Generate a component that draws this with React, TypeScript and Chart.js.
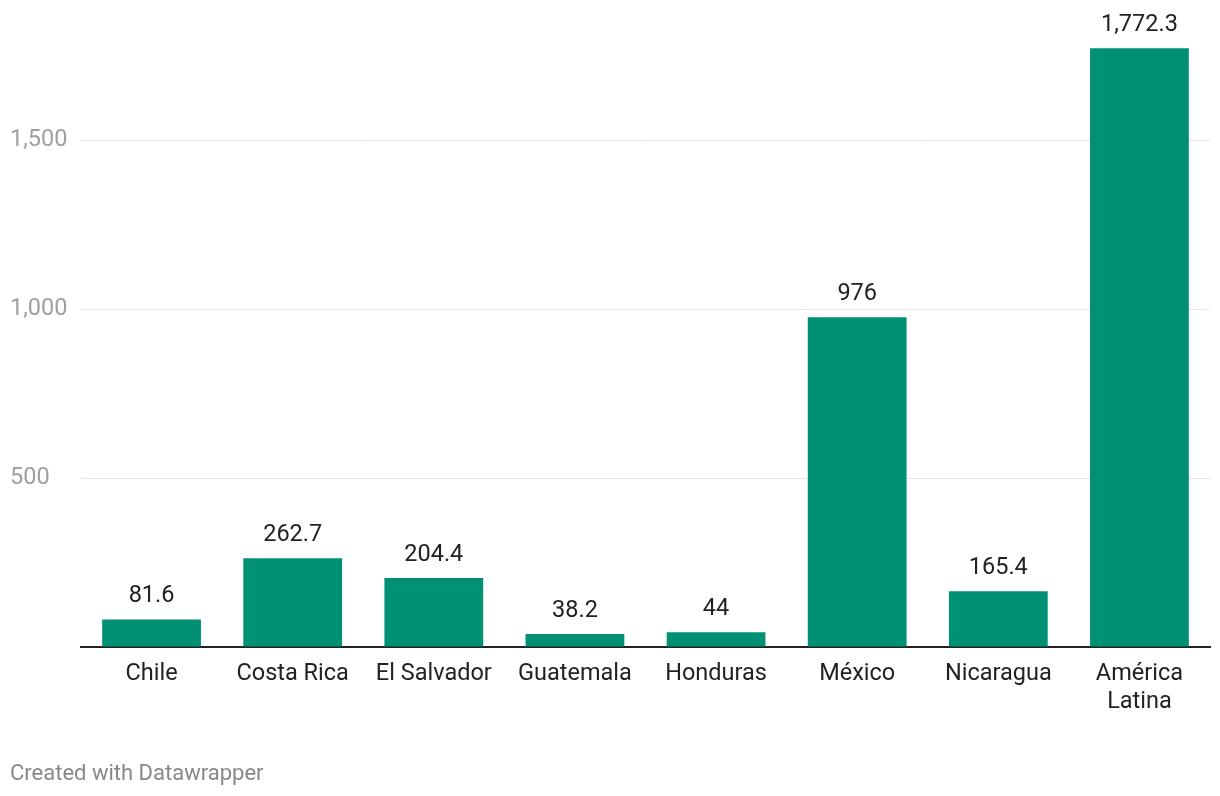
import React, { useEffect, useRef } from "react";
import { Chart, registerables } from "chart.js";

Chart.register(...registerables);

const categories: (string | string[])[] = [
  "Chile",
  "Costa Rica",
  "El Salvador",
  "Guatemala",
  "Honduras",
  "México",
  "Nicaragua",
  ["América", "Latina"],
];
const values: number[] = [81.6, 262.7, 204.4, 38.2, 44, 976, 165.4, 1772.3];
const yTicks: number[] = [0, 500, 1000, 1500];

const BAR_COLOR = "#009175";
const FONT = "Roboto, 'Noto Sans', sans-serif";

const fmt = (v: number) =>
  v.toLocaleString("en-US", { maximumFractionDigits: 1 });

const valueLabels = {
  id: "valueLabels",
  afterDatasetsDraw(chart: any) {
    const ctx = chart.ctx;
    const meta = chart.getDatasetMeta(0);
    ctx.save();
    ctx.font = `23.5px ${FONT}`;
    ctx.fillStyle = "#222222";
    ctx.textAlign = "center";
    ctx.textBaseline = "middle";
    meta.data.forEach((bar: any, i: number) => {
      ctx.fillText(fmt(values[i]), bar.x, bar.y - 23);
    });
    ctx.restore();
  },
};

export default function App() {
  const ref = useRef<HTMLCanvasElement | null>(null);

  useEffect(() => {
    document.body.style.margin = "0";
    const canvas = ref.current;
    if (!canvas) return;
    const chart = new Chart(canvas, {
      type: "bar",
      data: {
        labels: categories,
        datasets: [
          {
            data: values,
            backgroundColor: BAR_COLOR,
            categoryPercentage: 1,
            barPercentage: 0.7,
          },
        ],
      },
      options: {
        animation: false,
        responsive: false,
        maintainAspectRatio: false,
        layout: { padding: { left: 10, right: 10, top: 39, bottom: 69 } },
        plugins: {
          legend: { display: false },
          tooltip: { enabled: false },
        },
        scales: {
          x: {
            grid: { display: false, drawTicks: false },
            border: { display: true, color: "#222222", width: 2 },
            ticks: {
              color: "#222222",
              font: { family: FONT, size: 23.5, lineHeight: 1.19 },
              padding: 13,
              maxRotation: 0,
              autoSkip: false,
            },
            afterFit: (s: any) => {
              s.height = 80;
            },
          },
          y: {
            min: 0,
            max: 1800,
            border: { display: false },
            grid: {
              drawTicks: false,
              color: (c: any) =>
                c.tick && c.tick.value === 0 ? "rgba(0,0,0,0)" : "#e5e5e5",
              lineWidth: 1,
            },
            ticks: {
              color: "#a0a0a0",
              font: { family: FONT, size: 23.5 },
              crossAlign: "far",
              callback: (v: any) => (v === 0 ? "" : fmt(Number(v))),
            },
            afterBuildTicks: (s: any) => {
              s.ticks = yTicks.map((v) => ({ value: v }));
            },
            afterFit: (s: any) => {
              s.width = 71;
            },
          },
        },
      },
      plugins: [valueLabels],
    });
    return () => chart.destroy();
  }, []);

  return (
    <div style={{ position: "relative", width: 1220, height: 796 }}>
      <canvas ref={ref} width={1220} height={796} />
      <div
        style={{
          position: "absolute",
          left: 10,
          top: 760,
          fontFamily: FONT,
          fontSize: 22,
          color: "#888888",
          whiteSpace: "nowrap",
        }}
      >
        Created with Datawrapper
      </div>
    </div>
  );
}
